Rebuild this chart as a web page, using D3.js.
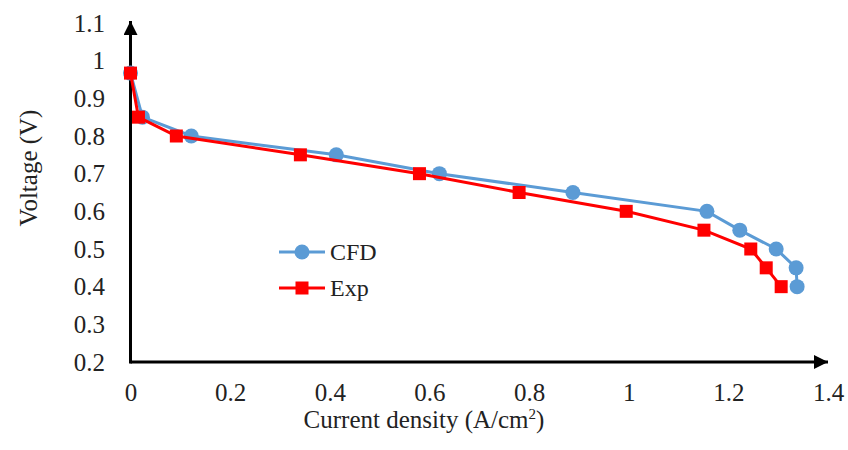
<!DOCTYPE html>
<html>
<head>
<meta charset="utf-8">
<script src="https://cdn.jsdelivr.net/npm/d3@7"></script>
<style>
  html, body { margin: 0; padding: 0; background: #fff; }
  svg { display: block; }
  text { font-family: "Liberation Serif", "Times New Roman", serif; fill: #222; }
</style>
</head>
<body>
<svg id="chart" width="848" height="450"></svg>
<script>
// ---- data ----
const cfdCurrent = [0, 0.024, 0.122, 0.413, 0.62, 0.888, 1.157, 1.223, 1.296, 1.336, 1.338];
const cfdVoltage = [0.967, 0.85, 0.80, 0.75, 0.70, 0.65, 0.60, 0.55, 0.50, 0.45, 0.40];
const expCurrent = [0, 0.016, 0.092, 0.341, 0.58, 0.78, 0.995, 1.151, 1.245, 1.276, 1.306];
const expVoltage = [0.967, 0.85, 0.80, 0.75, 0.70, 0.65, 0.60, 0.55, 0.50, 0.45, 0.40];
const xTicks = [0, 0.2, 0.4, 0.6, 0.8, 1, 1.2, 1.4];
const yTicks = [0.2, 0.3, 0.4, 0.5, 0.6, 0.7, 0.8, 0.9, 1, 1.1];
const seriesNames = ["CFD", "Exp"];
const xTitle = "Current density (A/cm";
const yTitle = "Voltage (V)";

const cfd = cfdCurrent.map((c, i) => ({x: c, y: cfdVoltage[i]}));
const exp = expCurrent.map((c, i) => ({x: c, y: expVoltage[i]}));

const svg = d3.select("#chart");
const x = d3.scaleLinear().domain([0, 1.4]).range([130.5, 828]);
const y = d3.scaleLinear().domain([0.2, 1.1]).range([362, 23]);

const blue = "#5B9BD5", red = "#FF0000";
const serif = '"Liberation Serif", "Times New Roman", serif';

// tick labels via axes (no domain, no tick lines)
const xAxis = d3.axisBottom(x).tickValues(xTicks).tickSize(0).tickPadding(0)
  .tickFormat(d => String(+d.toFixed(1)));
const gx = svg.append("g").attr("transform", "translate(0,401)").call(xAxis)
  .attr("font-family", serif).attr("font-size", 25);
gx.select(".domain").remove();
gx.selectAll("text").attr("dy", 0).attr("y", 0).attr("fill", "#222");

const yAxis = d3.axisLeft(y).tickValues(yTicks).tickSize(0).tickPadding(0)
  .tickFormat(d => String(+d.toFixed(1)));
const gy = svg.append("g").attr("transform", "translate(105,0)").call(yAxis)
  .attr("font-family", serif).attr("font-size", 25);
gy.select(".domain").remove();
gy.selectAll("text").attr("dy", "0.33em").attr("fill", "#222");

// axis lines with arrows
const defs = svg.append("defs");
defs.append("marker").attr("id", "arrow").attr("viewBox", "0 0 10 10")
  .attr("refX", 10).attr("refY", 5).attr("markerWidth", 14).attr("markerHeight", 14)
  .attr("markerUnits", "userSpaceOnUse").attr("orient", "auto")
  .append("path").attr("d", "M0,0 L10,5 L0,10 Z").attr("fill", "#000");

svg.append("line").attr("x1", x(0)).attr("y1", y(0.2)).attr("x2", 828).attr("y2", y(0.2))
  .attr("stroke", "#000").attr("stroke-width", 3).attr("marker-end", "url(#arrow)");
svg.append("line").attr("x1", x(0)).attr("y1", y(0.2) + 1.5).attr("x2", x(0)).attr("y2", 21)
  .attr("stroke", "#000").attr("stroke-width", 3).attr("marker-end", "url(#arrow)");

// series
const line = d3.line().x(d => x(d.x)).y(d => y(d.y));
svg.append("path").datum(cfd).attr("d", line).attr("fill", "none")
  .attr("stroke", blue).attr("stroke-width", 3);
svg.selectAll("circle.cfd").data(cfd).join("circle").attr("class", "cfd")
  .attr("cx", d => x(d.x)).attr("cy", d => y(d.y)).attr("r", 7.5).attr("fill", blue);

svg.append("path").datum(exp).attr("d", line).attr("fill", "none")
  .attr("stroke", red).attr("stroke-width", 3);
const sq = 13;
svg.selectAll("rect.exp").data(exp).join("rect").attr("class", "exp")
  .attr("x", d => x(d.x) - sq / 2).attr("y", d => y(d.y) - sq / 2)
  .attr("width", sq).attr("height", sq).attr("fill", red);

// legend
const lg = svg.append("g");
const legendRows = [{name: seriesNames[0], color: blue, shape: "circle", cy: 252},
                    {name: seriesNames[1], color: red, shape: "rect", cy: 288}];
legendRows.forEach(r => {
  lg.append("line").attr("x1", 279).attr("x2", 325).attr("y1", r.cy).attr("y2", r.cy)
    .attr("stroke", r.color).attr("stroke-width", 3);
  if (r.shape === "circle") {
    lg.append("circle").attr("cx", 302).attr("cy", r.cy).attr("r", 7.5).attr("fill", r.color);
  } else {
    lg.append("rect").attr("x", 302 - sq / 2).attr("y", r.cy - sq / 2).attr("width", sq).attr("height", sq).attr("fill", r.color);
  }
  lg.append("text").attr("x", 330).attr("y", r.cy).attr("dy", "0.35em")
    .style("font-size", "24px").text(r.name);
});

// axis titles
const xt = svg.append("text").attr("x", 424).attr("y", 428).attr("text-anchor", "middle")
  .style("font-size", "25px");
xt.append("tspan").text(xTitle);
xt.append("tspan").attr("dy", -9).style("font-size", "15px").text("2");
xt.append("tspan").attr("dy", 9).text(")");

svg.append("text").attr("transform", "translate(37,168) rotate(-90)")
  .attr("text-anchor", "middle").style("font-size", "25px").text(yTitle);
</script>
</body>
</html>
